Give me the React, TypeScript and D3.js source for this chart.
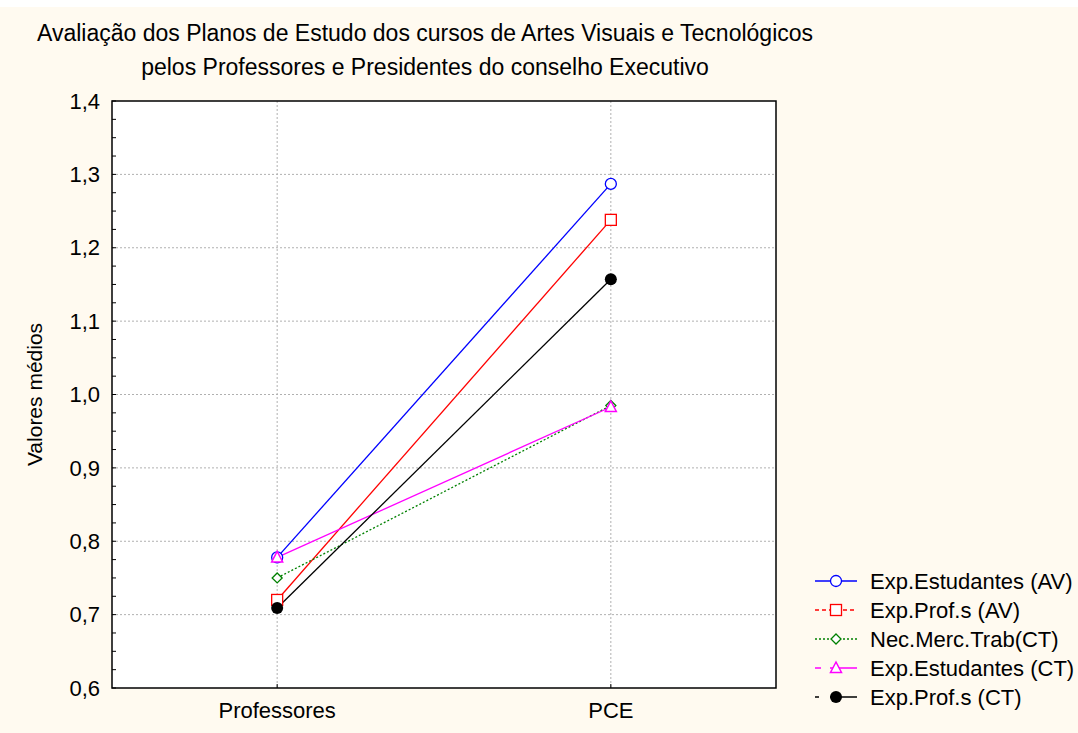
import React from 'react';
import * as d3 from 'd3';

const categories = ['Professores', 'PCE'];
const seriesNames = [
  'Exp.Estudantes (AV)',
  'Exp.Prof.s (AV)',
  'Nec.Merc.Trab(CT)',
  'Exp.Estudantes (CT)',
  'Exp.Prof.s (CT)',
];
const expEstudantesAV = [0.778, 1.287];
const expProfsAV = [0.72, 1.238];
const necMercTrab = [0.75, 0.985];
const expEstudantesCT = [0.778, 0.983];
const expProfsCT = [0.709, 1.157];
const yTicks = [0.6, 0.7, 0.8, 0.9, 1.0, 1.1, 1.2, 1.3, 1.4];

const seriesValues = [expEstudantesAV, expProfsAV, necMercTrab, expEstudantesCT, expProfsCT];
const colors = ['#0000ff', '#ff0000', '#008000', '#ff00ff', '#000000'];
const symbols = ['circle', 'square', 'diamond', 'triangle', 'dot'];
const lineDash = [null, null, '2,2', null, null];
const legendDash = [null, '4,3', '2,2', '6,9,30', '4,11,30'];

const margin = { left: 112, top: 101, right: 776, bottom: 688 };

function Marker({ kind, x, y, color }: { kind: string; x: number; y: number; color: string }) {
  if (kind === 'circle') return <circle cx={x} cy={y} r={5.5} fill="white" stroke={color} strokeWidth={1.3} />;
  if (kind === 'square') return <rect x={x - 5.5} y={y - 5.5} width={11} height={11} fill="white" stroke={color} strokeWidth={1.3} />;
  if (kind === 'diamond') return <path d={`M${x},${y - 5}L${x + 5},${y}L${x},${y + 5}L${x - 5},${y}Z`} fill="white" stroke={color} strokeWidth={1.3} />;
  if (kind === 'triangle') return <path d={`M${x},${y - 6}L${x + 5.5},${y + 4.5}L${x - 5.5},${y + 4.5}Z`} fill="white" stroke={color} strokeWidth={1.5} />;
  return <circle cx={x} cy={y} r={6} fill={color} />;
}

export default function App() {
  const x = d3.scalePoint<string>().domain(categories).range([margin.left, margin.right]).padding(0.495);
  const y = d3.scaleLinear().domain([0.6, 1.4]).range([margin.bottom, margin.top]);
  const minor = d3.range(0.6, 1.4001, 0.025);
  const line = d3.line<number>().x((_, i) => x(categories[i])!).y(d => y(d));
  const font = 'Arial, "Liberation Sans", sans-serif';
  const fs = 22;

  return (
    <svg width={1078} height={733} style={{ position: 'absolute', left: 0, top: 0 }} fontFamily={font}>
      <rect x={0} y={7} width={1078} height={726} fill="#fffaf0" />
      <rect x={margin.left} y={margin.top} width={margin.right - margin.left} height={margin.bottom - margin.top} fill="white" />
      {yTicks.slice(1, -1).map(t => (
        <line key={t} x1={margin.left} x2={margin.right} y1={y(t)} y2={y(t)} stroke="#b0b0b0" strokeDasharray="2,2" />
      ))}
      {categories.map(c => (
        <line key={c} x1={x(c)} x2={x(c)} y1={margin.top} y2={margin.bottom} stroke="#b0b0b0" strokeDasharray="2,2" />
      ))}
      {minor.map(t => (
        <line key={t} x1={margin.left} x2={margin.left + 4} y1={y(t)} y2={y(t)} stroke="black" />
      ))}
      {categories.map(c => (
        <line key={c} x1={x(c)} x2={x(c)} y1={margin.bottom} y2={margin.bottom - 4} stroke="black" />
      ))}
      <rect x={margin.left} y={margin.top} width={margin.right - margin.left} height={margin.bottom - margin.top} fill="none" stroke="black" strokeWidth={1.5} />
      {yTicks.map(t => (
        <text key={t} x={margin.left - 12} y={y(t)} dy="0.35em" textAnchor="end" fontSize={fs}>
          {d3.format('.1f')(t).replace('.', ',')}
        </text>
      ))}
      {categories.map(c => (
        <text key={c} x={x(c)} y={margin.bottom + 30} textAnchor="middle" fontSize={fs}>{c}</text>
      ))}
      <text transform={`translate(42,${(margin.top + margin.bottom) / 2}) rotate(-90)`} textAnchor="middle" fontSize={21}>Valores médios</text>
      <text x={425} y={41} textAnchor="middle" fontSize={23}>Avaliação dos Planos de Estudo dos cursos de Artes Visuais e Tecnológicos</text>
      <text x={425} y={75} textAnchor="middle" fontSize={23}>pelos Professores e Presidentes do conselho Executivo</text>
      {seriesValues.map((vals, i) => (
        <path key={i} d={line(vals)!} fill="none" stroke={colors[i]} strokeWidth={1.3} strokeDasharray={lineDash[i] ?? undefined} />
      ))}
      {seriesValues.map((vals, i) =>
        vals.map((v, j) => <Marker key={`${i}-${j}`} kind={symbols[i]} x={x(categories[j])!} y={y(v)} color={colors[i]} />)
      )}
      {seriesNames.map((name, i) => {
        const ly = 581 + i * 29;
        return (
          <g key={name}>
            <line x1={815} x2={857} y1={ly} y2={ly} stroke={colors[i]} strokeWidth={1.3} strokeDasharray={legendDash[i] ?? undefined} />
            <Marker kind={symbols[i]} x={836} y={ly} color={colors[i]} />
            <text x={870} y={ly} dy="0.35em" fontSize={fs}>{name}</text>
          </g>
        );
      })}
    </svg>
  );
}
